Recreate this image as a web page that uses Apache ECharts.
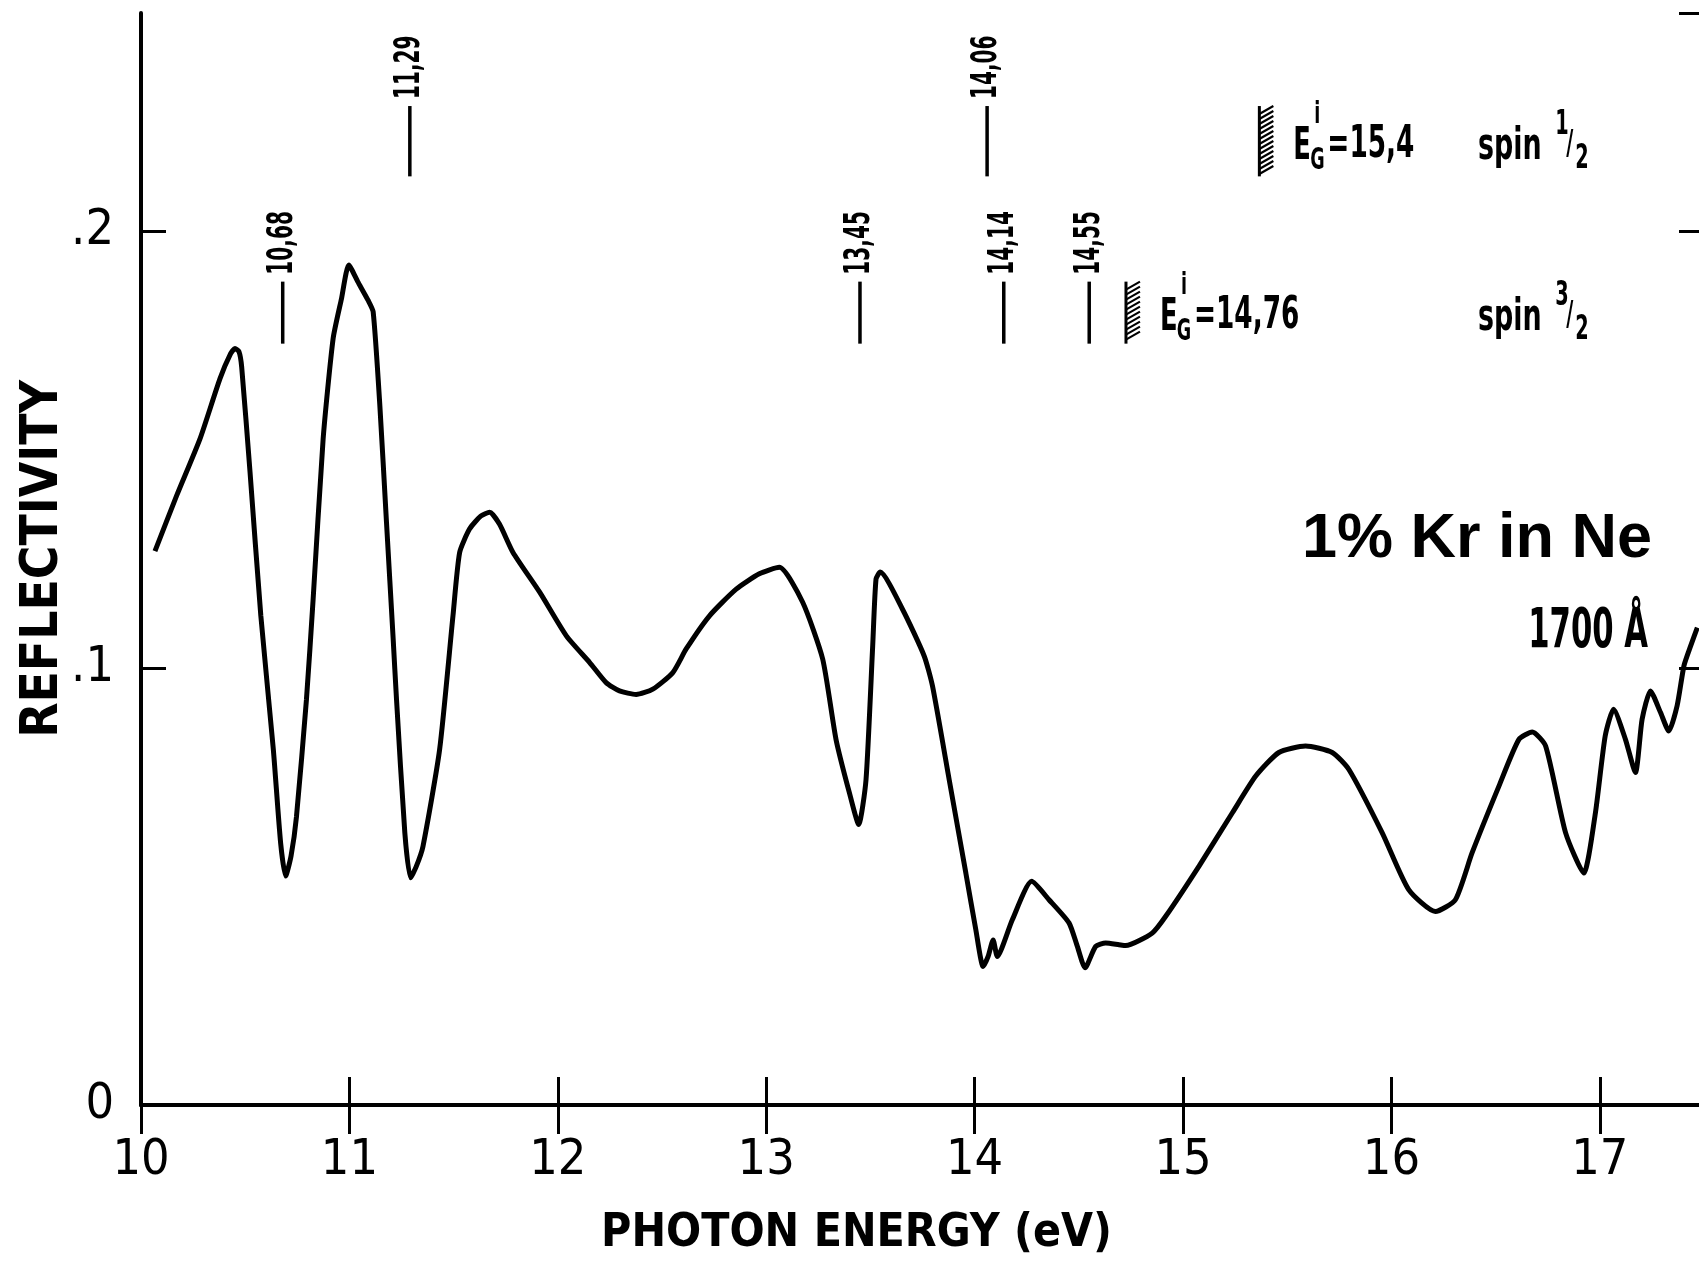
<!DOCTYPE html>
<html>
<head>
<meta charset="utf-8">
<title>1% Kr in Ne reflectivity</title>
<script src="https://cdn.jsdelivr.net/npm/echarts@6.0.0/dist/echarts.min.js"></script>
<style>
  html, body { margin: 0; padding: 0; background: #fff; }
  #chart { width: 1699px; height: 1261px; }
</style>
</head>
<body>
<div id="chart"></div>
<script>
// measured curve, photon energy (eV) vs reflectivity
const energy = [
  10.067, 10.171, 10.283, 10.379, 10.430, 10.451, 10.470, 10.483, 10.523, 10.575,
  10.635, 10.670, 10.694, 10.720, 10.746, 10.794, 10.826, 10.874, 10.922, 10.962,
  10.997, 11.040, 11.090, 11.114, 11.146, 11.178, 11.210, 11.226, 11.266, 11.293,
  11.320, 11.353, 11.433, 11.497, 11.529, 11.577, 11.630, 11.673, 11.720, 11.785,
  11.913, 12.041, 12.153, 12.232, 12.296, 12.376, 12.456, 12.552, 12.616, 12.728,
  12.856, 12.967, 13.063, 13.175, 13.271, 13.335, 13.399, 13.444, 13.479, 13.511,
  13.527, 13.547, 13.654, 13.758, 13.798, 13.878, 13.958, 14.006, 14.041, 14.065,
  14.089, 14.109, 14.181, 14.274, 14.357, 14.453, 14.493, 14.530, 14.581, 14.629,
  14.693, 14.725, 14.853, 14.917, 15.077, 15.237, 15.349, 15.460, 15.588, 15.716,
  15.796, 15.956, 16.083, 16.211, 16.307, 16.387, 16.516, 16.612, 16.676, 16.740,
  16.836, 16.923, 16.979, 17.026, 17.066, 17.123, 17.171, 17.203, 17.243, 17.291,
  17.331, 17.371, 17.404, 17.436, 17.468
]
const reflectivity = [
  0.1268, 0.1395, 0.1525, 0.1663, 0.1720, 0.1732, 0.1725, 0.1690, 0.1450, 0.1120,
  0.0814, 0.0600, 0.0524, 0.0570, 0.0660, 0.0929, 0.1158, 0.1525, 0.1755, 0.1846,
  0.1923, 0.1885, 0.1842, 0.1816, 0.1602, 0.1334, 0.1067, 0.0929, 0.0623, 0.0520,
  0.0545, 0.0592, 0.0814, 0.1120, 0.1265, 0.1319, 0.1348, 0.1357, 0.1330, 0.1265,
  0.1174, 0.1074, 0.1013, 0.0967, 0.0948, 0.0940, 0.0952, 0.0990, 0.1044, 0.1120,
  0.1181, 0.1216, 0.1231, 0.1151, 0.1021, 0.0837, 0.0715, 0.0642, 0.0745, 0.1051,
  0.1204, 0.1220, 0.1135, 0.1028, 0.0959, 0.0745, 0.0531, 0.0401, 0.0317, 0.0340,
  0.0378, 0.0340, 0.0424, 0.0512, 0.0470, 0.0417, 0.0363, 0.0314, 0.0363, 0.0371,
  0.0367, 0.0365, 0.0394, 0.0432, 0.0547, 0.0669, 0.0753, 0.0807, 0.0822, 0.0807,
  0.0768, 0.0623, 0.0493, 0.0443, 0.0470, 0.0577, 0.0730, 0.0837, 0.0854, 0.0822,
  0.0623, 0.0531, 0.0669, 0.0845, 0.0906, 0.0837, 0.0761, 0.0883, 0.0948, 0.0899,
  0.0856, 0.0914, 0.1006, 0.1051, 0.1093
]

// line positions (eV) marked above the curve, with the spin series they belong to
const lineEnergies = [10.68, 11.29, 13.45, 14.06, 14.14, 14.55]
const lineLabels = ['10,68', '11,29', '13,45', '14,06', '14,14', '14,55']
const lineSpin = ['3/2', '1/2', '3/2', '1/2', '3/2', '3/2']

// ionisation limits E_G^i
const gapEnergies = [15.4, 14.76]
const gapLabels = ['=15,4', '=14,76']
const gapSpin = ['1/2', '3/2']

const yTickLabels = ['0', '.1', '.2']

// layout of the annotation rows, in reflectivity units
const ROW_SPAN = { '1/2': [0.2126, 0.2287], '3/2': [0.1743, 0.1885] }
const SPIN_X = 16.415

const COND = '"DejaVu Sans Condensed", "DejaVu Sans", sans-serif'

const chart = echarts.init(document.getElementById('chart'))

const axisLine = { show: true, lineStyle: { color: '#000', width: 4 } }

// narrow lettering: condensed font squeezed a bit more
function txt(x, y, text, size, align, sx) {
  return {
    type: 'text', x: x, y: y, scaleX: sx || 0.65, scaleY: 1,
    style: {
      text: text, fill: '#000', fontSize: size, fontFamily: COND,
      fontWeight: 'bold', align: align || 'left', verticalAlign: 'middle'
    }
  }
}

chart.setOption({
  backgroundColor: '#fff',
  animation: false,
  grid: { left: 141, right: -5, top: 13, bottom: 156, containLabel: false, outerBoundsMode: 'none' },
  xAxis: [{
    type: 'value', min: 10, max: 17.5, interval: 1, position: 'bottom',
    name: 'PHOTON ENERGY (eV)', nameLocation: 'middle', nameGap: 106,
    nameTextStyle: { color: '#000', fontSize: 46, fontWeight: 'bold', fontFamily: COND, padding: [0, 132, 0, 0] },
    axisLine: axisLine,
    axisTick: { inside: true, length: 28, lineStyle: { color: '#000', width: 3 } },
    axisLabel: { color: '#000', fontSize: 50, fontFamily: COND, margin: 31, showMaxLabel: false },
    splitLine: { show: false }
  }, {
    type: 'value', min: 10, max: 17.5, interval: 1, position: 'top',
    axisLine: axisLine,
    axisTick: { inside: true, length: 29, lineStyle: { color: '#000', width: 3 } },
    axisLabel: { show: false },
    splitLine: { show: false }
  }],
  yAxis: [{
    type: 'value', min: 0, max: 0.25, interval: 0.1, position: 'left',
    name: 'REFLECTIVITY', nameLocation: 'middle', nameGap: 72, nameMoveOverlap: false,
    nameTextStyle: { color: '#000', fontSize: 51, fontWeight: 'bold', fontFamily: COND },
    axisLine: axisLine,
    axisTick: { inside: true, length: 25, lineStyle: { color: '#000', width: 3 } },
    axisLabel: {
      color: '#000', fontSize: 50, fontFamily: COND, margin: 27, showMaxLabel: false,
      formatter: v => yTickLabels[Math.round(v * 10)] || ''
    },
    splitLine: { show: false }
  }, {
    type: 'value', min: 0, max: 0.25, interval: 0.1, position: 'right',
    axisLine: { show: false },
    axisTick: { show: true, inside: true, length: 25, lineStyle: { color: '#000', width: 3 } },
    axisLabel: { show: false },
    splitLine: { show: false }
  }],
  series: [{
    type: 'line',
    data: energy.map((e, i) => [e, reflectivity[i]]),
    showSymbol: false,
    smooth: 0.2,
    lineStyle: { color: '#000', width: 5 },
    z: 3
  }, {
    // vertical marks for the absorption lines
    type: 'custom',
    data: lineEnergies.map(e => [e, 0]),
    renderItem: (params, api) => {
      const i = params.dataIndex
      const e = api.value(0)
      const span = ROW_SPAN[lineSpin[i]]
      const lo = api.coord([e, span[0]])
      const hi = api.coord([e, span[1]])
      return {
        type: 'group',
        children: [
          { type: 'line', shape: { x1: lo[0], y1: lo[1], x2: hi[0], y2: hi[1] }, style: { stroke: '#000', lineWidth: 3.5 } },
          {
            type: 'text', x: hi[0], y: hi[1] - 7, rotation: Math.PI / 2, scaleX: 0.62,
            style: { text: lineLabels[i], fill: '#000', fontSize: 36, fontWeight: 'bold', fontFamily: COND, align: 'left', verticalAlign: 'middle' }
          }
        ]
      }
    }
  }, {
    // hatched ionisation limits with their labels
    type: 'custom',
    data: gapEnergies.map(e => [e, 0]),
    renderItem: (params, api) => {
      const i = params.dataIndex
      const e = api.value(0)
      const span = ROW_SPAN[gapSpin[i]]
      const top = api.coord([e, span[1]])
      const bot = api.coord([e, span[0]])
      const cx = top[0]
      const cy = (top[1] + bot[1]) / 2
      const x0 = cx - 7
      const w = 14
      const kids = [
        { type: 'line', shape: { x1: x0, y1: top[1], x2: x0, y2: bot[1] }, style: { stroke: '#000', lineWidth: 3 } }
      ]
      for (let y = top[1]; y <= bot[1] - 8; y += 5) {
        kids.push({ type: 'line', shape: { x1: x0, y1: y + 8, x2: x0 + w, y2: y }, style: { stroke: '#000', lineWidth: 2.2 } })
      }
      kids.push(txt(cx + 27, cy + 6, 'E', 44, 'left'))
      kids.push(txt(cx + 51, cy - 26, 'i', 30, 'center'))
      kids.push(txt(cx + 51, cy + 20, 'G', 30, 'center'))
      kids.push(txt(cx + 61, cy + 4, gapLabels[i], 45, 'left'))

      // spin label of this row
      const sx = api.coord([SPIN_X, 0])[0]
      const frac = gapSpin[i].split('/')
      kids.push(txt(sx, cy + 6, 'spin', 44, 'left', 0.68))
      kids.push(txt(sx + 84, cy - 16, frac[0], 33, 'center'))
      kids.push(txt(sx + 92, cy + 4, '/', 33, 'center'))
      kids.push(txt(sx + 104, cy + 18, frac[1], 33, 'center'))
      return { type: 'group', children: kids }
    }
  }],
  graphic: [{
    type: 'text', x: 1652, y: 540,
    style: { text: '1% Kr in Ne', fill: '#000', fontSize: 63, fontWeight: 'bold', fontFamily: '"Liberation Sans", sans-serif', align: 'right', verticalAlign: 'middle' }
  }, {
    type: 'text', x: 1648, y: 633, scaleX: 0.62,
    style: { text: '1700 Å', fill: '#000', fontSize: 55, fontWeight: 'bold', fontFamily: COND, align: 'right', verticalAlign: 'middle' }
  }]
})
</script>
</body>
</html>
